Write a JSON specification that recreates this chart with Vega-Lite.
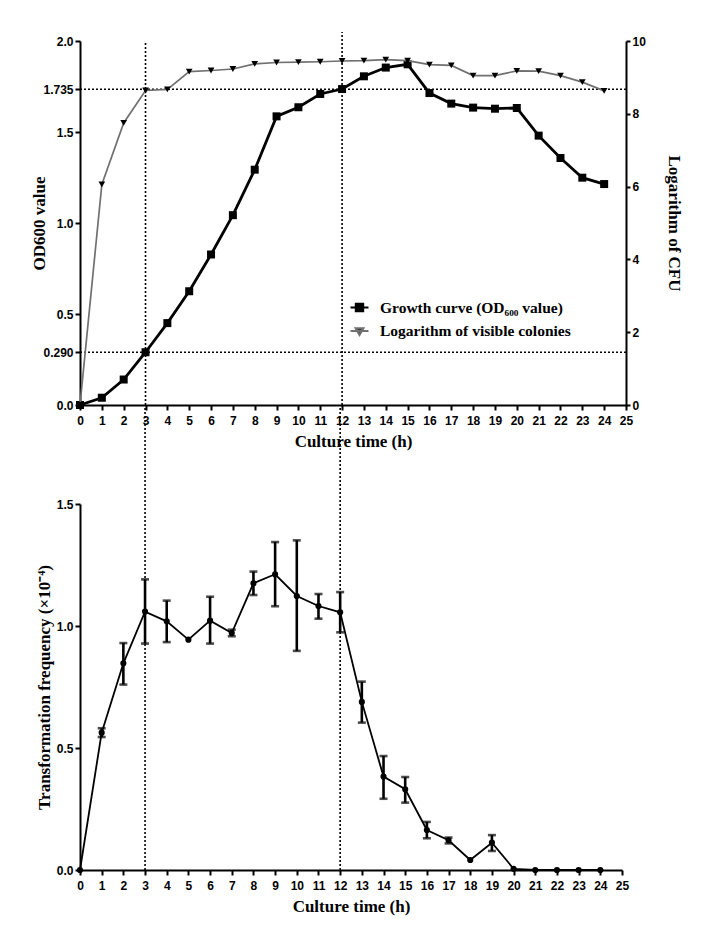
{
  "$schema": "https://vega.github.io/schema/vega-lite/v6.json",
  "bounds": "flush",
  "spacing": 99,
  "padding": {"left": 30, "top": 31, "right": 5, "bottom": 5},
  "background": "white",
  "config": {
    "view": {"stroke": null},
    "axis": {
      "domainColor": "black", "domainWidth": 2, "tickColor": "black", "tickWidth": 2, "tickSize": 5,
      "labelFont": "Liberation Sans", "labelFontWeight": "bold", "labelFontSize": 12, "labelColor": "black",
      "titleFont": "Liberation Serif", "titleFontWeight": "bold", "titleFontSize": 17, "titleColor": "black",
      "grid": false, "labelPadding": 3, "labelFlush": false
    },
    "axisX": {"labelOverlap": false, "labelSeparation": 0}
  },
  "datasets": {
    "growth": [
      {"t": 0, "od": 0, "cfu": 0},
      {"t": 1, "od": 0.04, "cfu": 6.06},
      {"t": 2, "od": 0.14, "cfu": 7.75},
      {"t": 3, "od": 0.29, "cfu": 8.64},
      {"t": 4, "od": 0.45, "cfu": 8.67},
      {"t": 5, "od": 0.625, "cfu": 9.16},
      {"t": 6, "od": 0.827, "cfu": 9.19},
      {"t": 7, "od": 1.043, "cfu": 9.23},
      {"t": 8, "od": 1.293, "cfu": 9.37},
      {"t": 9, "od": 1.586, "cfu": 9.41},
      {"t": 10, "od": 1.636, "cfu": 9.42},
      {"t": 11, "od": 1.709, "cfu": 9.43},
      {"t": 12, "od": 1.736, "cfu": 9.45},
      {"t": 13, "od": 1.806, "cfu": 9.46},
      {"t": 14, "od": 1.854, "cfu": 9.49},
      {"t": 15, "od": 1.872, "cfu": 9.46},
      {"t": 16, "od": 1.714, "cfu": 9.35},
      {"t": 17, "od": 1.656, "cfu": 9.33},
      {"t": 18, "od": 1.634, "cfu": 9.05},
      {"t": 19, "od": 1.628, "cfu": 9.05},
      {"t": 20, "od": 1.632, "cfu": 9.18},
      {"t": 21, "od": 1.48, "cfu": 9.17},
      {"t": 22, "od": 1.357, "cfu": 9.05},
      {"t": 23, "od": 1.249, "cfu": 8.87},
      {"t": 24, "od": 1.214, "cfu": 8.63}
    ],
    "tf": [
      {"t": 0, "tf": 0, "lo": null, "hi": null},
      {"t": 1, "tf": 0.563, "lo": 0.545, "hi": 0.581},
      {"t": 2, "tf": 0.847, "lo": 0.76, "hi": 0.93},
      {"t": 3, "tf": 1.059, "lo": 0.928, "hi": 1.191},
      {"t": 4, "tf": 1.019, "lo": 0.934, "hi": 1.104},
      {"t": 5, "tf": 0.944, "lo": null, "hi": null},
      {"t": 6, "tf": 1.022, "lo": 0.928, "hi": 1.12},
      {"t": 7, "tf": 0.971, "lo": 0.958, "hi": 0.985},
      {"t": 8, "tf": 1.175, "lo": 1.127, "hi": 1.223},
      {"t": 9, "tf": 1.212, "lo": 1.081, "hi": 1.344},
      {"t": 10, "tf": 1.123, "lo": 0.898, "hi": 1.351},
      {"t": 11, "tf": 1.082, "lo": 1.03, "hi": 1.131},
      {"t": 12, "tf": 1.056, "lo": 0.974, "hi": 1.139},
      {"t": 13, "tf": 0.689, "lo": 0.604, "hi": 0.772},
      {"t": 14, "tf": 0.383, "lo": 0.292, "hi": 0.467},
      {"t": 15, "tf": 0.331, "lo": 0.276, "hi": 0.381},
      {"t": 16, "tf": 0.164, "lo": 0.13, "hi": 0.197},
      {"t": 17, "tf": 0.122, "lo": 0.109, "hi": 0.133},
      {"t": 18, "tf": 0.041, "lo": null, "hi": null},
      {"t": 19, "tf": 0.112, "lo": 0.078, "hi": 0.143},
      {"t": 20, "tf": 0.005, "lo": null, "hi": null},
      {"t": 21, "tf": 0, "lo": null, "hi": null},
      {"t": 22, "tf": 0, "lo": null, "hi": null},
      {"t": 23, "tf": 0, "lo": null, "hi": null},
      {"t": 24, "tf": 0, "lo": null, "hi": null}
    ],
    "series": [
      {"series": "Growth curve (OD₆₀₀ value)"},
      {"series": "Logarithm of visible colonies"}
    ],
    "hlines": [{"h": 1.735}, {"h": 0.29}],
    "vtop": [{"t": 3, "y0": 0, "y1": 2.0}, {"t": 12, "y0": 0, "y1": 2.05}],
    "vbot": [{"t": 3, "y0": 0, "y1": 1.906}, {"t": 12, "y0": 0, "y1": 1.906}]
  },
  "vconcat": [
    {
      "width": 546,
      "height": 364,
      "resolve": {"scale": {"y": "independent"}},
      "layer": [
        {
          "layer": [
            {
              "data": {"name": "hlines"},
              "mark": {"type": "rule", "color": "black", "strokeWidth": 1.6, "strokeDash": [2, 2]},
              "encoding": {
                "y": {"field": "h", "type": "quantitative", "title": "OD600 value",
                  "scale": {"domain": [0, 2], "nice": false},
                  "axis": {"values": [0, 0.29, 0.5, 1, 1.5, 1.735, 2], "labelPadding": 2, "titlePadding": -6,
                    "labelExpr": "datum.value == 0.29 ? '0.290' : datum.value == 1.735 ? '1.735' : format(datum.value, '.1f')"}
                }
              }
            },
            {
              "data": {"name": "vtop"},
              "mark": {"type": "rule", "color": "black", "strokeWidth": 1.6, "strokeDash": [2, 2]},
              "encoding": {
                "x": {"field": "t", "type": "quantitative", "title": "Culture time (h)",
                  "scale": {"domain": [0, 25], "nice": false},
                  "axis": {"tickCount": 25, "tickMinStep": 1, "format": "d", "labelPadding": 5, "titlePadding": 7, "labelOverlap": false}
                },
                "y": {"field": "y0", "type": "quantitative", "title": "OD600 value"},
                "y2": {"field": "y1"}
              }
            },
            {
              "data": {"name": "growth"},
              "mark": {"type": "line", "color": "black", "strokeWidth": 2.8},
              "encoding": {
                "x": {"field": "t", "type": "quantitative", "title": "Culture time (h)"},
                "y": {"field": "od", "type": "quantitative", "title": "OD600 value"}
              }
            },
            {
              "data": {"name": "growth"},
              "mark": {"type": "point", "shape": "square", "filled": true, "color": "black", "opacity": 1, "size": 64},
              "encoding": {
                "x": {"field": "t", "type": "quantitative", "title": "Culture time (h)"},
                "y": {"field": "od", "type": "quantitative", "title": "OD600 value"}
              }
            },
            {
              "data": {"name": "series"},
              "mark": {"type": "point", "filled": true, "fill": "black", "opacity": 0, "strokeWidth": 2},
              "encoding": {
                "shape": {
                  "field": "series", "type": "nominal",
                  "scale": {"domain": ["Growth curve (OD₆₀₀ value)", "Logarithm of visible colonies"], "range": ["M-1,0H1M-0.4,-0.4H0.4V0.4H-0.4Z", "M-1,0H1M-0.42,-0.3H0.42L0,0.42Z"]},
                  "legend": {
                    "title": null, "orient": "none", "legendX": 269, "legendY": 256, "padding": 0,
                    "symbolSize": 324, "symbolOpacity": 1, "symbolStrokeWidth": 2.2,
                    "rowPadding": 4.5, "labelOffset": 10, "labelLimit": 400,
                    "labelFont": "Liberation Serif", "labelFontWeight": "bold", "labelFontSize": 15.5, "labelColor": "black"
                  }
                },
                "stroke": {
                  "field": "series", "type": "nominal",
                  "scale": {"domain": ["Growth curve (OD₆₀₀ value)", "Logarithm of visible colonies"], "range": ["black", "#707070"]},
                  "legend": {
                    "title": null, "orient": "none", "legendX": 269, "legendY": 256, "padding": 0,
                    "symbolSize": 324, "symbolOpacity": 1, "symbolStrokeWidth": 2.2,
                    "rowPadding": 4.5, "labelOffset": 10, "labelLimit": 400,
                    "labelFont": "Liberation Serif", "labelFontWeight": "bold", "labelFontSize": 15.5, "labelColor": "black"
                  }
                }
              }
            }
          ]
        },
        {
          "layer": [
            {
              "data": {"name": "growth"},
              "mark": {"type": "line", "color": "#707070", "strokeWidth": 1.7},
              "encoding": {
                "x": {"field": "t", "type": "quantitative", "title": "Culture time (h)"},
                "y": {"field": "cfu", "type": "quantitative", "title": "Logarithm of CFU",
                  "scale": {"domain": [0, 10], "nice": false},
                  "axis": {"orient": "right", "values": [0, 2, 4, 6, 8, 10], "tickSize": 4, "labelPadding": 2, "titlePadding": 19}
                }
              }
            },
            {
              "data": {"name": "growth"},
              "mark": {"type": "point", "shape": "triangle-down", "filled": true, "color": "black", "opacity": 1, "size": 45},
              "encoding": {
                "x": {"field": "t", "type": "quantitative", "title": "Culture time (h)"},
                "y": {"field": "cfu", "type": "quantitative", "title": "Logarithm of CFU"}
              }
            }
          ]
        }
      ]
    },
    {
      "width": 542,
      "height": 366,
      "layer": [
        {
          "data": {"name": "vbot"},
          "mark": {"type": "rule", "color": "black", "strokeWidth": 1.6, "strokeDash": [2, 2]},
          "encoding": {
            "x": {"field": "t", "type": "quantitative", "title": "Culture time (h)",
              "scale": {"domain": [0, 25], "nice": false},
              "axis": {"tickCount": 25, "tickMinStep": 1, "format": "d", "labelPadding": 5, "titlePadding": 7, "labelOverlap": false}
            },
            "y": {"field": "y0", "type": "quantitative", "title": "Transformation frequency (×10⁻⁴)",
              "scale": {"domain": [0, 1.5], "nice": false},
              "axis": {"values": [0, 0.5, 1, 1.5], "format": ".1f", "labelPadding": 2, "titlePadding": 3}
            },
            "y2": {"field": "y1"}
          }
        },
        {
          "data": {"name": "tf"},
          "mark": {"type": "line", "color": "black", "strokeWidth": 1.8},
          "encoding": {
            "x": {"field": "t", "type": "quantitative", "title": "Culture time (h)"},
            "y": {"field": "tf", "type": "quantitative", "title": "Transformation frequency (×10⁻⁴)"}
          }
        },
        {
          "data": {"name": "tf"},
          "transform": [{"filter": "isValid(datum.lo)"}],
          "mark": {"type": "errorbar", "ticks": {"size": 8}, "thickness": 2.6, "color": "black"},
          "encoding": {
            "x": {"field": "t", "type": "quantitative", "title": "Culture time (h)"},
            "y": {"field": "lo", "type": "quantitative", "title": "Transformation frequency (×10⁻⁴)"},
            "y2": {"field": "hi"}
          }
        },
        {
          "data": {"name": "tf"},
          "mark": {"type": "point", "filled": true, "color": "black", "opacity": 1, "size": 38, "shape": "circle"},
          "encoding": {
            "x": {"field": "t", "type": "quantitative", "title": "Culture time (h)"},
            "y": {"field": "tf", "type": "quantitative", "title": "Transformation frequency (×10⁻⁴)"}
          }
        }
      ]
    }
  ]
}
